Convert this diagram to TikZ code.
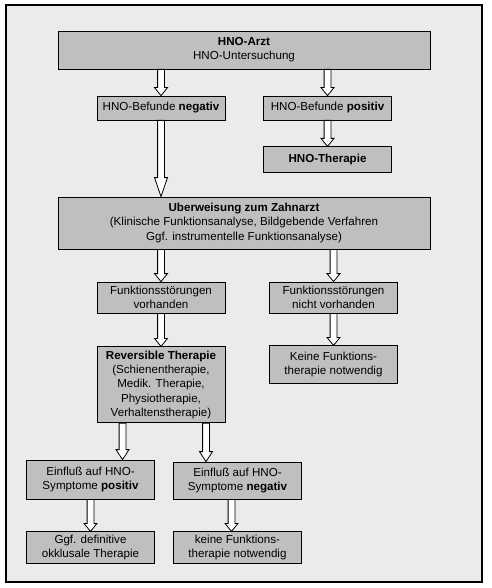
\documentclass[tikz,border=0pt]{standalone}
\usepackage{fontspec}
\setmainfont{Liberation Sans}
\usetikzlibrary{positioning,calc}

\begin{document}
\begin{tikzpicture}[x=1pt,y=-1pt,font=\fontsize{11.6}{14.3}\selectfont,
        box/.style={draw,fill=black!25,align=center,inner sep=0pt,line width=0.8pt},
        breit/.style={box,minimum width=372pt},
        schmal/.style={box,minimum width=128pt},
        pfeil/.style={draw,fill=white,line width=0.8pt,
          to path={let \p1=(\tikztostart), \p2=(\tikztotarget) in
            (\x1-3.4pt,\y1) -- (\x1-3.4pt,\y2+#1) -- (\x1-6.5pt,\y2+#1) -- (\x1,\y2)
            -- (\x1+6.5pt,\y2+#1) -- (\x1+3.4pt,\y2+#1) -- (\x1+3.4pt,\y1) -- cycle}},
        pfeil/.default=8pt]

  \useasboundingbox (0,0) rectangle (491,588);
  \draw[line width=1.5pt,fill=black!8] (6,5) rectangle (482,582);

  \node[breit,minimum height=38pt] (arzt) at (244,50) {\textbf{HNO-Arzt}\\HNO-Untersuchung};
  \node[schmal,minimum height=24pt] (neg) at (161,108) {HNO-Befunde \textbf{negativ}};
  \node[schmal,minimum height=24pt] (pos) at (327.5,108) {HNO-Befunde \textbf{positiv}};
  \node[schmal,minimum height=26pt] (hnoth) [below=26pt of pos] {\textbf{HNO-Therapie}};

  \node[breit,minimum height=52pt] (zahn) at (244,223) {\textbf{Uberweisung zum Zahnarzt}\\
    (Klinische Funktionsanalyse, Bildgebende Verfahren\\Ggf. instrumentelle Funktionsanalyse)};
  \node[schmal,minimum height=31pt] (fvor) at (161,297.5) {Funktionsstörungen\\vorhanden};
  \node[schmal,minimum height=31pt] (fnicht) at (333.5,297.5) {Funktionsstörungen\\nicht vorhanden};
  \node[schmal,minimum height=76pt] (rev) [below=33pt of fvor] {\textbf{Reversible Therapie}\\
    (Schienentherapie,\\Medik. Therapie,\\Physiotherapie,\\Verhaltenstherapie)};
  \node[schmal,minimum height=38pt] (keine) [below=32pt of fnicht] {Keine Funktions-\\therapie notwendig};

  \node[schmal,minimum height=39pt] (einpos) at (90.5,479.5) {Einflu\ss{} auf HNO-\\Symptome \textbf{positiv}};
  \node[schmal,minimum height=37pt] (einneg) at (237.5,480.5) {Einflu\ss{} auf HNO-\\Symptome \textbf{negativ}};
  \node[schmal,minimum height=32pt] (ggf) [below=32pt of einpos] {Ggf. definitive\\okklusale Therapie};
  \node[schmal,minimum height=32pt] (keine2) [below=32pt of einneg] {keine Funktions-\\therapie notwendig};

  \coordinate (r1) at ([xshift=-38.5pt]rev.south);
  \coordinate (r2) at ([xshift=45pt]rev.south);
  \coordinate (e2) at ([xshift=-6pt]einneg.south);

  \path (arzt.south -| neg) edge[pfeil]      (neg.north)
        (arzt.south -| pos) edge[pfeil]      (pos.north)
        (neg.south)         edge[pfeil=19pt] (zahn.north -| neg)
        (pos.south)         edge[pfeil]      (hnoth.north)
        (zahn.south -| fvor)   edge[pfeil]   (fvor.north)
        (zahn.south -| fnicht) edge[pfeil]   (fnicht.north)
        (fvor.south)        edge[pfeil]      (rev.north)
        (fnicht.south)      edge[pfeil]      (keine.north)
        (r1)                edge[pfeil=10pt] (r1 |- einpos.north)
        (r2)                edge[pfeil=10pt] (r2 |- einneg.north)
        (einpos.south)      edge[pfeil]      (ggf.north)
        (e2)                edge[pfeil]      (e2 |- keine2.north);

\end{tikzpicture}
\end{document}
